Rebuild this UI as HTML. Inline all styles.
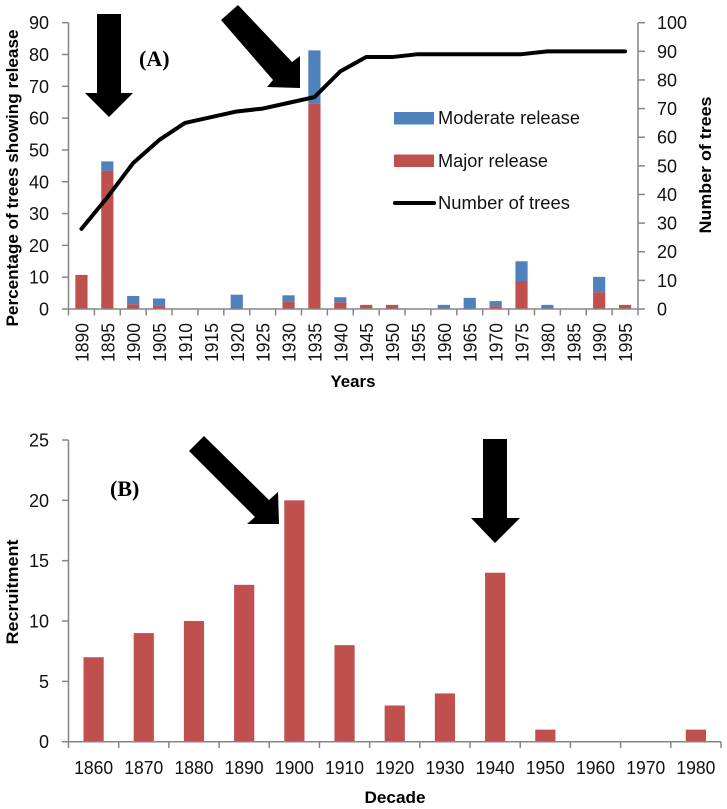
<!DOCTYPE html>
<html lang="en">
<head>
<meta charset="utf-8">
<title>Tree release and recruitment charts</title>
<style>
html,body{margin:0;padding:0;background:#fff;width:727px;height:809px;overflow:hidden}
svg{display:block}
text{font-family:"Liberation Sans",sans-serif;fill:#111}
.tick{font-size:18px}
.title{font-size:17px;font-weight:bold;fill:#000}
.legend{font-size:18px}
.panel{font-family:"Liberation Serif",serif;font-size:22px;font-weight:bold;fill:#000}
</style>
</head>
<body>
<svg id="figure" width="727" height="809" viewBox="0 0 727 809" xmlns="http://www.w3.org/2000/svg">
  <g id="chartA"></g>
  <g id="chartB"></g>

  <text class="title" transform="translate(18,178) rotate(-90)" text-anchor="middle" textLength="297" lengthAdjust="spacingAndGlyphs">Percentage of trees showing release</text>
  <text class="title" transform="translate(711,165) rotate(-90)" text-anchor="middle" textLength="137" lengthAdjust="spacingAndGlyphs">Number of trees</text>
  <text class="title" x="353" y="387" text-anchor="middle" textLength="45" lengthAdjust="spacingAndGlyphs">Years</text>
  <text class="title" transform="translate(18,592) rotate(-90)" text-anchor="middle" textLength="105" lengthAdjust="spacingAndGlyphs">Recruitment</text>
  <text class="title" x="395" y="803" text-anchor="middle" textLength="61" lengthAdjust="spacingAndGlyphs">Decade</text>

  <text class="panel" x="139" y="66">(A)</text>
  <text class="panel" x="110" y="496">(B)</text>

  <g>
    <rect x="394" y="112" width="40" height="12.5" fill="#4f81bd"/>
    <text class="legend" x="438" y="124" textLength="142" lengthAdjust="spacingAndGlyphs">Moderate release</text>
    <rect x="394" y="154.5" width="40" height="12.5" fill="#c0504d"/>
    <text class="legend" x="438" y="167" textLength="110" lengthAdjust="spacingAndGlyphs">Major release</text>
    <line x1="395" y1="203" x2="434" y2="203" stroke="#000" stroke-width="4" stroke-linecap="round"/>
    <text class="legend" x="438" y="209" textLength="132" lengthAdjust="spacingAndGlyphs">Number of trees</text>
  </g>

  <polygon points="97,14 121,14 121,93 133,93 109,117 85,93 97,93" fill="#000"/>
  <polygon points="238,5 221,20 273,80 267,87 300,88 300,56 292,62" fill="#000"/>
  <polygon points="204,436 189,451 255,517 247,524 279,524 278,492 269,500" fill="#000"/>
  <polygon points="483,439 507,439 507,518 520,518 495,543 471,518 483,518" fill="#000"/>
</svg>

<script>
const yearsA = ['1890','1895','1900','1905','1910','1915','1920','1925','1930','1935','1940','1945','1950','1955','1960','1965','1970','1975','1980','1985','1990','1995'];
const majorRelease = [10.7,43.5,1.5,1.2,0,0,0,0,2.4,64.7,2.1,1.3,1.3,0,0,0,0.9,8.8,0,0,5.3,1.3];
const moderateRelease = [0,2.9,2.6,2.1,0,0,4.5,0,1.9,16.6,1.6,0,0,0,1.3,3.5,1.6,6.2,1.3,0,4.8,0];
const numberOfTrees = [28,39,51,59,65,67,69,70,72,74,83,88,88,89,89,89,89,89,90,90,90,90];
const leftTicksA = [0,10,20,30,40,50,60,70,80,90];
const rightTicksA = [0,10,20,30,40,50,60,70,80,90,100];

const decades = ['1860','1870','1880','1890','1900','1910','1920','1930','1940','1950','1960','1970','1980'];
const recruitment = [7,9,10,13,20,8,3,4,14,1,0,0,1];
const ticksB = [0,5,10,15,20,25];

const NS = 'http://www.w3.org/2000/svg';
function mk(parent, tag, attrs, txt) {
  const el = document.createElementNS(NS, tag);
  for (const k in attrs) el.setAttribute(k, attrs[k]);
  if (txt !== undefined) el.textContent = txt;
  parent.appendChild(el);
  return el;
}
const AXIS = '#868686';

/* ---------- Chart A ---------- */
const gA = document.getElementById('chartA');
const aLeft = 68.5, aRight = 638, aBottom = 309, aTop = 22.7;
const aStep = (aRight - aLeft) / yearsA.length;
const aX = i => aLeft + aStep * (i + 0.5);
const aY = v => aBottom - (aBottom - aTop) * v / 90;
const aY2 = v => aBottom - (aBottom - aTop) * v / 100;
const aBarW = 12.2;

majorRelease.forEach((v, i) => {
  if (v > 0) {
    const r = mk(gA, 'rect', {x: aX(i) - aBarW / 2, y: aY(v), width: aBarW, height: aBottom - aY(v), fill: '#c0504d'});
    
    
  }
  const m = moderateRelease[i];
  if (m > 0) {
    const r2 = mk(gA, 'rect', {x: aX(i) - aBarW / 2, y: aY(v + m), width: aBarW, height: aY(v) - aY(v + m), fill: '#4f81bd'});
    
    
  }
});

const axisA = mk(gA, 'path', {fill: 'none', stroke: AXIS, 'stroke-width': 1.5,
  d: 'M' + aLeft + ' ' + aTop + 'V' + aBottom + 'H' + aRight + 'V' + aTop});



leftTicksA.forEach(v => {
  const t = mk(gA, 'line', {x1: 62, x2: aLeft, y1: aY(v), y2: aY(v), stroke: AXIS, 'stroke-width': 1.5});
  
  
  const l = mk(gA, 'text', {class: 'tick', x: 49, y: aY(v) + 6.5, 'text-anchor': 'end'}, String(v));
  
  
});
rightTicksA.forEach(v => {
  const t = mk(gA, 'line', {x1: aRight, x2: 645, y1: aY2(v), y2: aY2(v), stroke: AXIS, 'stroke-width': 1.5});
  
  
  const l = mk(gA, 'text', {class: 'tick', x: 657, y: aY2(v) + 6.5}, String(v));
  
  
});
for (let i = 0; i <= yearsA.length; i++) {
  const x = aLeft + aStep * i;
  const t = mk(gA, 'line', {x1: x, x2: x, y1: aBottom, y2: 315.5, stroke: AXIS, 'stroke-width': 1.5});
  
  
}
yearsA.forEach((y, i) => {
  const l = mk(gA, 'text', {class: 'tick', 'text-anchor': 'end', transform: 'translate(' + (aX(i) + 7) + ',323) rotate(-90)', textLength: 39, lengthAdjust: 'spacingAndGlyphs'}, y);
  
  
});

const treesLine = mk(gA, 'polyline', {fill: 'none', stroke: '#000', 'stroke-width': 4, 'stroke-linecap': 'round', 'stroke-linejoin': 'round',
  points: numberOfTrees.map((v, i) => aX(i) + ',' + aY2(v)).join(' ')});



/* ---------- Chart B ---------- */
const gB = document.getElementById('chartB');
const bLeft = 68.5, bRight = 721, bBottom = 741.7, bTop = 440;
const bStep = (bRight - bLeft) / decades.length;
const bX = i => bLeft + bStep * (i + 0.5);
const bY = v => bBottom - (bBottom - bTop) * v / 25;
const bBarW = 20.2;

recruitment.forEach((v, i) => {
  if (v > 0) {
    const r = mk(gB, 'rect', {x: bX(i) - bBarW / 2, y: bY(v), width: bBarW, height: bBottom - bY(v), fill: '#c0504d'});
    
    
  }
});

const axisB = mk(gB, 'path', {fill: 'none', stroke: AXIS, 'stroke-width': 1.5,
  d: 'M' + bLeft + ' ' + bTop + 'V' + bBottom + 'H' + bRight});



ticksB.forEach(v => {
  const t = mk(gB, 'line', {x1: 62, x2: bLeft, y1: bY(v), y2: bY(v), stroke: AXIS, 'stroke-width': 1.5});
  
  
  const l = mk(gB, 'text', {class: 'tick', x: 49, y: bY(v) + 6.5, 'text-anchor': 'end'}, String(v));
  
  
});
for (let i = 0; i <= decades.length; i++) {
  const x = bLeft + bStep * i;
  const t = mk(gB, 'line', {x1: x, x2: x, y1: bBottom, y2: 748, stroke: AXIS, 'stroke-width': 1.5});
  
  
}
decades.forEach((d, i) => {
  const l = mk(gB, 'text', {class: 'tick', x: bX(i), y: 774, 'text-anchor': 'middle', textLength: 39, lengthAdjust: 'spacingAndGlyphs'}, d);
  
  
});
</script>
</body>
</html>
